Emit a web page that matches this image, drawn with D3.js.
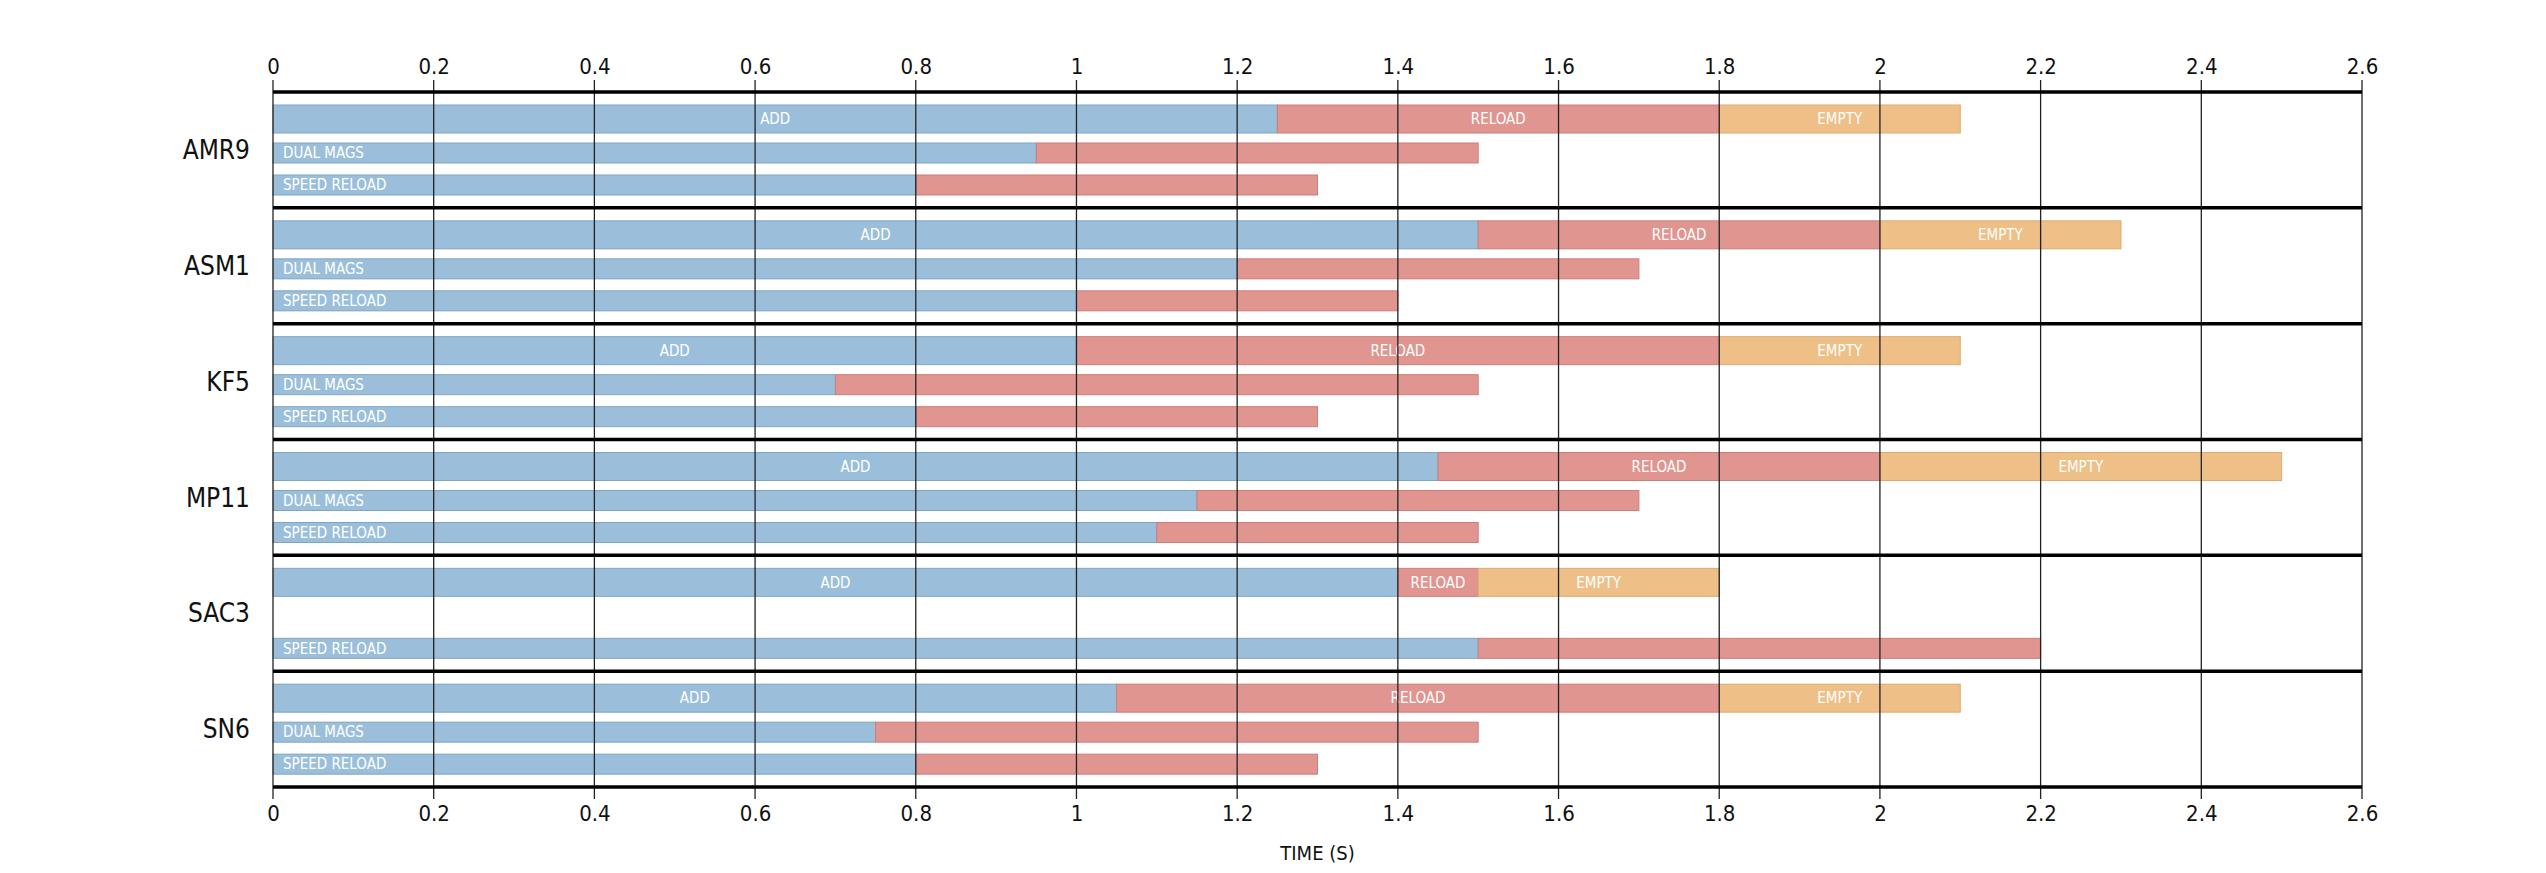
<!DOCTYPE html>
<html><head><meta charset="utf-8">
<script src="https://cdn.jsdelivr.net/npm/d3@7"></script>
<style>body{margin:0;background:#fff}svg{display:block}text{font-family:"Liberation Sans Narrow","DejaVu Sans Condensed","Roboto",sans-serif}</style>
</head><body><svg id="c" width="2546" height="873"></svg>
<script>
const weapons = ["AMR9","ASM1","KF5","MP11","SAC3","SN6"];
const addEnd =    [1.25, 1.5, 1.0, 1.45, 1.4, 1.05];
const reloadEnd = [1.8, 2.0, 1.8, 2.0, 1.5, 1.8];
const emptyEnd =  [2.1, 2.3, 2.1, 2.5, 1.8, 2.1];
const dualSplit = [0.95, 1.2, 0.7, 1.15, null, 0.75];
const dualEnd =   [1.5, 1.7, 1.5, 1.7, null, 1.5];
const speedSplit =[0.8, 1.0, 0.8, 1.1, 1.5, 0.8];
const speedEnd =  [1.3, 1.4, 1.3, 1.5, 2.2, 1.3];
const ticks = [0,0.2,0.4,0.6,0.8,1,1.2,1.4,1.6,1.8,2,2.2,2.4,2.6];

(function(){
const svg = d3.select("#c");
const x = d3.scaleLinear().domain([0,2.6]).range([273,2362]);
const yTop = 92, yBot = 787;
const y = d3.scaleBand().domain(weapons).range([yTop,yBot]).padding(0);
const C = {blue:"#9bbfdb", red:"#e09590", orange:"#eec087"};
const S = {blue:"#7ea5c4", red:"#cf7d78", orange:"#ddab70"};

function bar(g, x0, x1, y0, h, col, label, align){
  g.append("rect").attr("x",x(x0)).attr("y",y0).attr("width",x(x1)-x(x0)).attr("height",h)
    .attr("fill",C[col]).attr("stroke",S[col]).attr("stroke-width",1);
  if(label){
    g.append("text").attr("x", align==="left" ? x(x0)+10 : (x(x0)+x(x1))/2)
      .attr("y", y0+h/2).attr("dy","0.35em").attr("text-anchor", align==="left"?"start":"middle")
      .attr("fill","#fff").attr("font-size",15).text(label);
  }
}
const g = svg.append("g");
weapons.forEach((w,i)=>{
  const y0 = y(w);
  bar(g,0,addEnd[i],y0+13,28,"blue","ADD");
  bar(g,addEnd[i],reloadEnd[i],y0+13,28,"red","RELOAD");
  bar(g,reloadEnd[i],emptyEnd[i],y0+13,28,"orange","EMPTY");
  if(dualSplit[i]!=null){
    bar(g,0,dualSplit[i],y0+51,20,"blue","DUAL MAGS","left");
    bar(g,dualSplit[i],dualEnd[i],y0+51,20,"red");
  }
  bar(g,0,speedSplit[i],y0+83,20,"blue","SPEED RELOAD","left");
  bar(g,speedSplit[i],speedEnd[i],y0+83,20,"red");
  svg.append("text").attr("x",250).attr("y",y0+y.bandwidth()/2).attr("dy","0.35em")
    .attr("text-anchor","end").attr("font-size",26).attr("fill","#111").text(w);
});
svg.append("g").selectAll("line").data(ticks).join("line")
  .attr("x1",d=>x(d)).attr("x2",d=>x(d)).attr("y1",yTop-12).attr("y2",yBot+12)
  .attr("stroke","#222").attr("stroke-width",1.3);
svg.append("g").selectAll("line").data(weapons.map(w=>y(w)).concat([yBot])).join("line")
  .attr("x1",x(0)).attr("x2",x(2.6)).attr("y1",d=>d).attr("y2",d=>d)
  .attr("stroke","#000").attr("stroke-width",3.5);
const fmt = d=>String(+d.toFixed(1));
svg.append("g").attr("transform",`translate(0,${yTop-12})`)
  .call(d3.axisTop(x).tickValues(ticks).tickFormat(fmt).tickSize(0).tickPadding(6))
  .call(a=>{a.select(".domain").remove();a.selectAll("text").attr("font-size",22).attr("fill","#111");});
svg.append("g").attr("transform",`translate(0,${yBot+12})`)
  .call(d3.axisBottom(x).tickValues(ticks).tickFormat(fmt).tickSize(0).tickPadding(6))
  .call(a=>{a.select(".domain").remove();a.selectAll("text").attr("font-size",22).attr("fill","#111");});
svg.append("text").attr("x",x(1.3)).attr("y",860).attr("text-anchor","middle")
  .attr("font-size",20).attr("fill","#111").text("TIME (S)");
})();
</script></body></html>
